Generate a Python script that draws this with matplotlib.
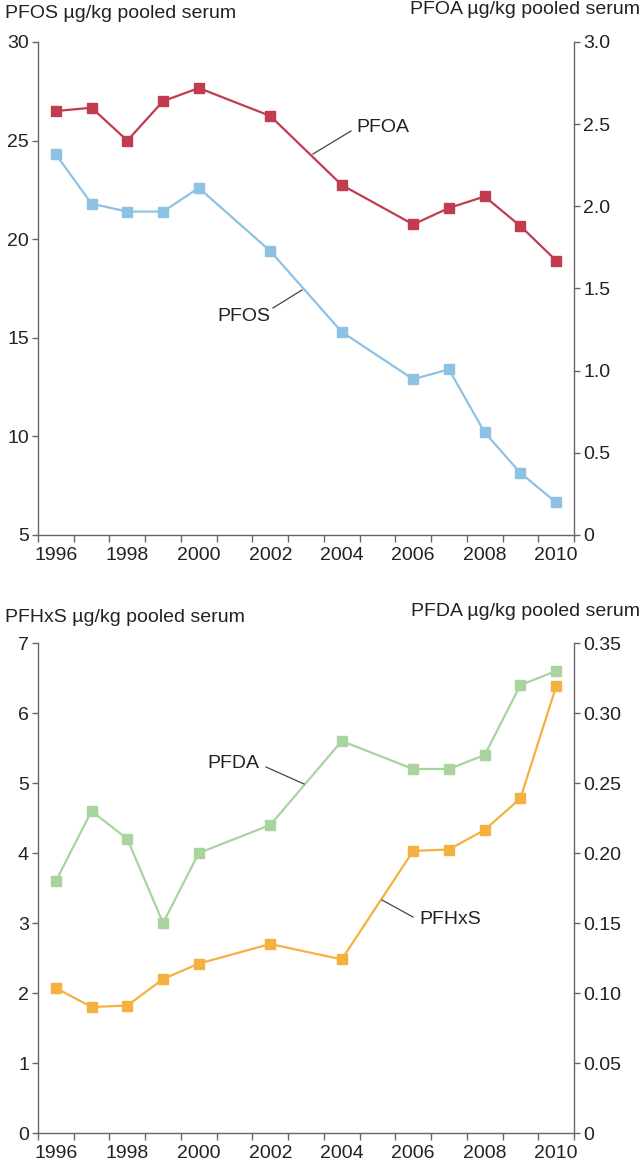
import matplotlib
matplotlib.use("Agg")
import matplotlib.pyplot as plt
from matplotlib.lines import Line2D

plt.rcParams['font.family'] = ['Liberation Sans', 'DejaVu Sans']

# ---- data ----
years = [1996, 1997, 1998, 1999, 2000, 2002, 2004, 2006, 2007, 2008, 2009, 2010]
pfos = [24.3, 21.8, 21.4, 21.4, 22.6, 19.4, 15.3, 12.9, 13.4, 10.2, 8.15, 6.65]
pfoa = [2.58, 2.60, 2.40, 2.64, 2.72, 2.55, 2.13, 1.89, 1.99, 2.06, 1.88, 1.67]
pfhxs = [2.07, 1.80, 1.82, 2.20, 2.42, 2.70, 2.48, 4.03, 4.05, 4.33, 4.78, 6.38]
pfda = [0.18, 0.23, 0.21, 0.15, 0.20, 0.22, 0.28, 0.26, 0.26, 0.27, 0.32, 0.33]

year_labels = [1996, 1998, 2000, 2002, 2004, 2006, 2008, 2010]
top_left_ticks = [5, 10, 15, 20, 25, 30]
top_right_ticks = [0, 0.5, 1.0, 1.5, 2.0, 2.5, 3.0]
top_right_labels = ['0', '0.5', '1.0', '1.5', '2.0', '2.5', '3.0']
bot_left_ticks = [0, 1, 2, 3, 4, 5, 6, 7]
bot_right_ticks = [0, 0.05, 0.10, 0.15, 0.20, 0.25, 0.30, 0.35]
bot_right_labels = ['0', '0.05', '0.10', '0.15', '0.20', '0.25', '0.30', '0.35']

C_RED = '#C23B4F'
C_BLUE = '#8EC2E4'
C_GREEN = '#A9D49F'
C_ORANGE = '#F5B13F'
SPINE = '#666666'
FS = 14

W, H = 641, 1164
fig = plt.figure(figsize=(W / 100, H / 100), dpi=100)


def fx(px):
    return px / W


def fy(py):
    return 1 - py / H


def make_panel(top_px, bot_px):
    ax = fig.add_axes([fx(38), fy(bot_px), fx(574) - fx(38), fy(top_px) - fy(bot_px)])
    ax2 = ax.twinx()
    for a in (ax, ax2):
        a.spines['top'].set_visible(False)
        for s in ('left', 'right', 'bottom'):
            a.spines[s].set_color(SPINE)
            a.spines[s].set_linewidth(1.0)
        a.set_facecolor('none')
    ax.spines['right'].set_visible(False)
    ax2.spines['left'].set_visible(False)
    ax2.spines['bottom'].set_visible(False)
    ax.set_xlim(1995.5, 2010.5)
    bounds = [1995.5 + i for i in range(16)]
    ax.set_xticks(bounds)
    ax.set_xticklabels([''] * len(bounds))
    ax.set_xticks(year_labels, minor=True)
    ax.set_xticklabels([str(y) for y in year_labels], minor=True, fontsize=FS)
    ax.tick_params(axis='x', which='major', length=5, width=1.0, color=SPINE, direction='out')
    ax.tick_params(axis='x', which='minor', length=0, pad=8.5, labelcolor='#222222')
    ax.tick_params(axis='y', length=4, width=1.0, color=SPINE, pad=2.5,
                   labelsize=FS, labelcolor='#222222')
    ax2.tick_params(axis='y', length=4, width=1.0, color=SPINE, pad=2.5,
                    labelsize=FS, labelcolor='#222222')
    return ax, ax2


# ---- top panel ----
ax, ax2 = make_panel(42, 535)
ax.set_ylim(5, 30)
ax.set_yticks(top_left_ticks)
ax2.set_ylim(0, 3.0)
ax2.set_yticks(top_right_ticks)
ax2.set_yticklabels(top_right_labels)
ax.plot(years, pfos, color=C_BLUE, lw=1.6, marker='s', ms=7.8, mec=C_BLUE, mfc=C_BLUE, clip_on=False)
ax2.plot(years, pfoa, color=C_RED, lw=1.6, marker='s', ms=7.8, mec=C_RED, mfc=C_RED, clip_on=False)

fig.text(fx(5), fy(14), 'PFOS µg/kg pooled serum', fontsize=FS, ha='left', va='center', color='#222222')
fig.text(fx(640), fy(9), 'PFOA µg/kg pooled serum', fontsize=FS, ha='right', va='center', color='#222222')

# ---- bottom panel ----
bx, bx2 = make_panel(643, 1133)
bx.set_ylim(0, 7)
bx.set_yticks(bot_left_ticks)
bx2.set_ylim(0, 0.35)
bx2.set_yticks(bot_right_ticks)
bx2.set_yticklabels(bot_right_labels)
bx2.plot(years, pfda, color=C_GREEN, lw=1.6, marker='s', ms=7.8, mec=C_GREEN, mfc=C_GREEN, clip_on=False)
bx.plot(years, pfhxs, color=C_ORANGE, lw=1.6, marker='s', ms=7.8, mec=C_ORANGE, mfc=C_ORANGE, clip_on=False)
bx.set_zorder(bx2.get_zorder() + 1)

fig.text(fx(5), fy(617), 'PFHxS µg/kg pooled serum', fontsize=FS, ha='left', va='center', color='#222222')
fig.text(fx(640), fy(612), 'PFDA µg/kg pooled serum', fontsize=FS, ha='right', va='center', color='#222222')

# ---- series labels with leader lines ----
def leader(x0, y0, x1, y1):
    fig.add_artist(Line2D([fx(x0), fx(x1)], [fy(y0), fy(y1)], color='#444444', lw=0.9))


fig.text(fx(356), fy(128), 'PFOA', fontsize=FS, ha='left', va='center', color='#222222')
leader(313, 154, 351, 131)
fig.text(fx(270), fy(317), 'PFOS', fontsize=FS, ha='right', va='center', color='#222222')
leader(302, 290, 273, 308)
fig.text(fx(259), fy(763), 'PFDA', fontsize=FS, ha='right', va='center', color='#222222')
leader(266, 767, 304, 784)
fig.text(fx(419), fy(920), 'PFHxS', fontsize=FS, ha='left', va='center', color='#222222')
leader(382, 900, 413, 917)

fig.savefig('out.png', dpi=100)
